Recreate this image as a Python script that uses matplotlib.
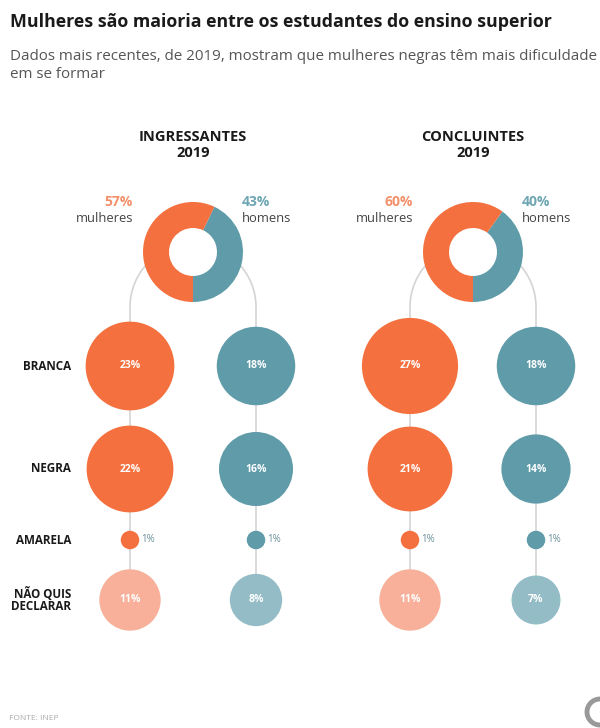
import numpy as np
import matplotlib
matplotlib.use('agg')
import matplotlib.pyplot as plt
from matplotlib.patches import Circle, Wedge, Arc

plt.rcParams["font.family"] = ["Open Sans", "DejaVu Sans"]

# Data
groups = ["INGRESSANTES\n2019", "CONCLUINTES\n2019"]
share_women = [57, 60]
share_men = [43, 40]
races = ["BRANCA", "NEGRA", "AMARELA", "NÃO QUIS\nDECLARAR"]
women_ingr = [23, 22, 1, 11]
men_ingr = [18, 16, 1, 8]
women_concl = [27, 21, 1, 11]
men_concl = [18, 14, 1, 7]

ORANGE = "#f4703e"
TEAL = "#5f9ba8"
ORANGE_LT = "#f8b09a"
TEAL_LT = "#93bcc6"
LINE = "#d4d4d4"

fig = plt.figure(figsize=(6, 7.28), dpi=100)
ax = fig.add_axes([0, 0, 1, 1])
ax.set_xlim(0, 600)
ax.set_ylim(728, 0)
ax.set_aspect("equal")
ax.axis("off")

# layout (pixels)
panel_cx = [193, 473]
col_dx = 63
row_y = [366, 469, 540, 600]
donut_y = 252
donut_r = 50
donut_w = 26
k = 9.25  # radius per sqrt(percent)

fig.text(10 / 600, 1 - 22 / 728, "Mulheres são maioria entre os estudantes do ensino superior",
         fontsize=12.8, fontweight="bold", color="#1a1a1a", va="center", ha="left")
fig.text(10 / 600, 1 - 57 / 728,
         "Dados mais recentes, de 2019, mostram que mulheres negras têm mais dificuldade",
         fontsize=10.9, color="#555555", va="center", ha="left")
fig.text(10 / 600, 1 - 75 / 728, "em se formar",
         fontsize=10.9, color="#555555", va="center", ha="left")

panels = [(women_ingr, men_ingr), (women_concl, men_concl)]
for p, cx in enumerate(panel_cx):
    ax.text(cx, 145, groups[p], ha="center", va="center", fontsize=10.5,
            fontweight="bold", color="#1a1a1a", linespacing=1.1)

    # connector arc and vertical lines
    arc_y = 307
    ax.add_patch(Arc((cx, arc_y), 2 * col_dx, 2 * col_dx, theta1=180, theta2=360,
                     color=LINE, lw=1.2, zorder=1))
    for side in (-1, 1):
        ax.plot([cx + side * col_dx] * 2, [arc_y, row_y[-1]], color=LINE, lw=1.2, zorder=1)

    # donut
    w = share_women[p]
    m = share_men[p]
    a_men = 360 * m / (w + m)
    ax.add_patch(Wedge((cx, donut_y), donut_r, 90 - a_men, 90, width=donut_w,
                       facecolor=TEAL, edgecolor="none", zorder=3))
    ax.add_patch(Wedge((cx, donut_y), donut_r, 90, 90 - a_men + 360, width=donut_w,
                       facecolor=ORANGE, edgecolor="none", zorder=3))
    ax.add_patch(Circle((cx, donut_y), donut_r - donut_w, facecolor="white",
                        edgecolor="none", zorder=2))

    ax.text(cx - 60, 202, f"{w}%", ha="right", va="center", fontsize=10,
            fontweight="bold", color="#f3906a")
    ax.text(cx - 60, 219, "mulheres", ha="right", va="center", fontsize=9.4, color="#444444")
    ax.text(cx + 49, 202, f"{m}%", ha="left", va="center", fontsize=10,
            fontweight="bold", color="#6fa6b3")
    ax.text(cx + 49, 219, "homens", ha="left", va="center", fontsize=9.4, color="#444444")

    women, men = panels[p]
    for side, vals, c_main, c_lt in ((-1, women, ORANGE, ORANGE_LT), (1, men, TEAL, TEAL_LT)):
        x = cx + side * col_dx
        for i, v in enumerate(vals):
            r = k * np.sqrt(v)
            col = c_lt if i == len(vals) - 1 else c_main
            ax.add_patch(Circle((x, row_y[i]), r, facecolor=col, edgecolor="none", zorder=3))
            if v >= 3:
                ax.text(x, row_y[i], f"{v}%", ha="center", va="center", fontsize=7.5,
                        color="white", fontweight="bold", zorder=4)
            else:
                ax.text(x + r + 2, row_y[i], f"{v}%", ha="left", va="center", fontsize=7,
                        color="#6b8f9a", zorder=4)

for i, lab in enumerate(races):
    ax.text(71, row_y[i], lab, ha="right", va="center", fontsize=8.4,
            fontweight="bold", color="#1a1a1a", linespacing=1.0)

ax.text(9, 719, "FONTE: INEP", ha="left", va="center", fontsize=6, color="#aaaaaa")
ax.add_patch(Circle((600, 712), 13, facecolor="none", edgecolor="#999999", lw=3.5, zorder=2))

fig.savefig("out.png", dpi=100, facecolor="white")
